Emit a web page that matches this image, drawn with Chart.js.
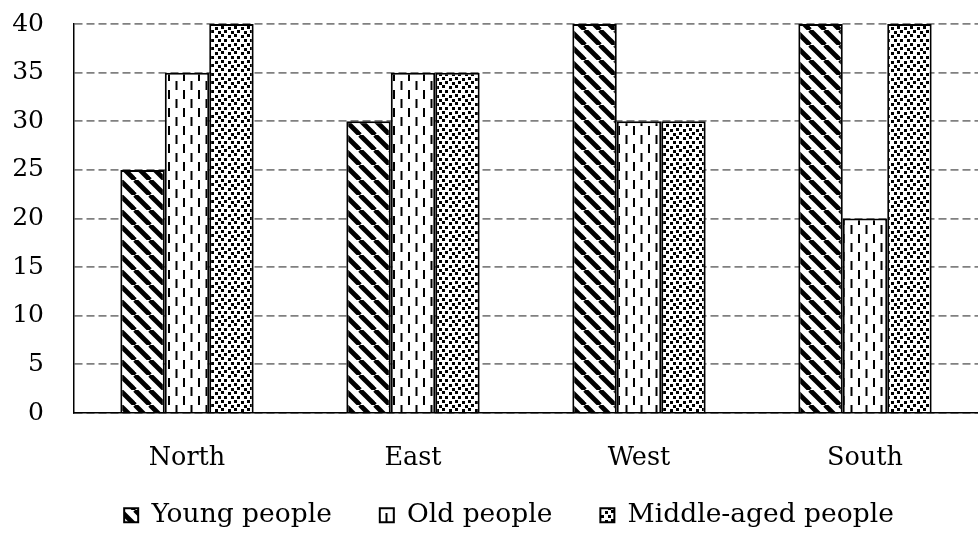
<!DOCTYPE html>
<html>
<head>
<meta charset="utf-8">
<script src="https://cdn.jsdelivr.net/npm/chart.js@4/dist/chart.umd.min.js"></script>
<style>
  html, body { margin: 0; padding: 0; background: #fff; }
  #wrap { width: 978px; height: 534px; }
</style>
</head>
<body>
<div id="wrap"><canvas id="c" width="978" height="534"></canvas></div>
<script>
// Regions and values per age group
const regions = ['North', 'East', 'West', 'South'];
const youngPeople = [25, 30, 40, 40];
const oldPeople = [35, 35, 30, 20];
const middleAgedPeople = [40, 35, 30, 40];
const seriesNames = ['Young people', 'Old people', 'Middle-aged people'];
const yTicks = [0, 5, 10, 15, 20, 25, 30, 35, 40];

// Fill patterns: diagonal stripes, dashed verticals, small dots
function makePattern(draw, w, h) {
  const cv = document.createElement('canvas');
  cv.width = w; cv.height = h;
  const g = cv.getContext('2d');
  g.fillStyle = '#fff';
  g.fillRect(0, 0, w, h);
  g.fillStyle = '#000';
  g.strokeStyle = '#000';
  draw(g);
  return document.getElementById('c').getContext('2d').createPattern(cv, 'repeat');
}

const stripes = makePattern(g => {
  g.lineWidth = 4.8;
  for (let o = -15; o <= 30; o += 15) {
    g.beginPath();
    g.moveTo(o, 0);
    g.lineTo(o + 15, 15);
    g.stroke();
  }
}, 15, 15);

const dashes = makePattern(g => {
  g.fillRect(3, 0, 2, 9);
  g.fillRect(10.5, 9, 2, 9);
}, 15, 18);

const dots = makePattern(g => {
  g.fillRect(0, 0, 3, 3);
  g.fillRect(7, 1, 3, 3);
  g.fillRect(3, 5, 3, 3);
  g.fillRect(10, 5, 3, 3);
  g.fillRect(0, 9, 3, 3);
  g.fillRect(7, 10, 3, 3);
  g.fillRect(3, 13, 3, 3);
  g.fillRect(10, 14, 3, 3);
}, 13, 17);

const serif = '"DejaVu Serif", "Liberation Serif", serif';

// Legend sits a little higher and further right than its layout box
const legendPlacement = {
  id: 'legendPlacement',
  afterLayout(chart) {
    const lg = chart.legend;
    lg.top -= 21;
    lg.left += 32;
  }
};

new Chart(document.getElementById('c'), {
  type: 'bar',
  data: {
    labels: regions,
    datasets: [
      { label: seriesNames[0], data: youngPeople, backgroundColor: stripes },
      { label: seriesNames[1], data: oldPeople, backgroundColor: dashes },
      { label: seriesNames[2], data: middleAgedPeople, backgroundColor: dots }
    ].map(d => Object.assign(d, {
      borderColor: '#000',
      borderWidth: 2,
      categoryPercentage: 0.59,
      barPercentage: 1
    }))
  },
  options: {
    responsive: false,
    animation: false,
    devicePixelRatio: 1,
    layout: { padding: { top: 24, right: 0, left: 8, bottom: 0 } },
    scales: {
      x: {
        grid: { display: false },
        border: { display: true, color: '#000', width: 1.5 },
        ticks: { color: '#000', font: { family: serif, size: 25.5 }, padding: 22 },
        afterFit: s => { s.height = 62; }
      },
      y: {
        min: 0, max: 40,
        afterBuildTicks: axis => { axis.ticks = yTicks.map(v => ({ value: v })); },
        afterFit: s => { s.width = 66; },
        grid: { color: '#808080', lineWidth: 1.8, drawTicks: true, tickLength: 30, tickColor: 'rgba(0,0,0,0)' },
        border: { display: true, color: '#000', width: 1.5, dash: [8, 4] },
        ticks: { color: '#000', font: { family: serif, size: 25 }, padding: 0 }
      }
    },
    plugins: {
      legend: {
        position: 'bottom',
        maxHeight: 59,
        labels: {
          color: '#000',
          font: { family: serif, size: 26.5 },
          boxWidth: 14,
          boxHeight: 14,
          padding: 48
        }
      },
      tooltip: { enabled: false }
    }
  },
  plugins: [legendPlacement]
});
</script>
</body>
</html>
